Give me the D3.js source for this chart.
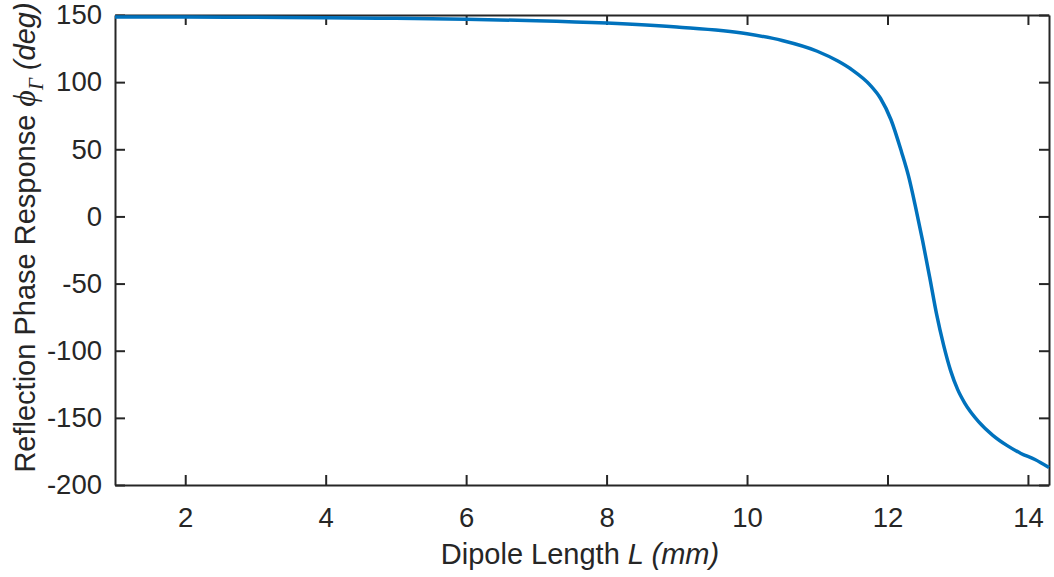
<!DOCTYPE html>
<html>
	<head>
		<meta charset="utf-8">
		<style>
			body {
			  margin: 0;
			  background: #fff;
			  font-family: "Liberation Sans", Arial, Helvetica, sans-serif;
			}
			.axis text {
			  fill: #262626;
			  font-size: 27.5px;
			}
			.axis path, .axis line {
			  stroke: #262626;
			  stroke-width: 2px;
			}
			.label {
			  fill: #262626;
			  font-size: 29px;
			}
		</style>
		<script src="https://cdn.jsdelivr.net/npm/d3@7"></script>
	</head>
	<body>
		<div id="chart"><svg></svg></div>
		<script>
			var width = 1054;
			var height = 577;
			var margin = {top: 15, right: 5, bottom: 92, left: 115};

			// dipole length L (mm) and reflection phase (deg)
			var lengths = [1, 2, 3, 4, 5, 6, 7, 8, 9, 10, 10.5, 11, 11.3, 11.5, 11.75, 11.9, 12.05, 12.2, 12.3, 12.4,
				12.5, 12.6, 12.7, 12.8, 12.9, 13.0, 13.1, 13.3, 13.5, 13.7, 13.9, 14.1, 14.3];
			var phases = [148.5, 148.5, 148.3, 148, 147.5, 146.8, 145.8, 144, 141, 136, 131, 123, 115.5, 109, 98, 88, 72, 48, 30, 7,
				-18, -45, -73, -96, -115, -129, -139, -153, -163, -170.5, -176.5, -181, -187];

			var xTicks = [2, 4, 6, 8, 10, 12, 14];
			var yTicks = [-200, -150, -100, -50, 0, 50, 100, 150];

			var w = width - margin.left - margin.right;
			var h = height - margin.top - margin.bottom;

			var svg = d3.select("svg")
				.attr("width", width)
				.attr("height", height);

			var g = svg.append("g")
				.attr("transform", "translate(" + margin.left + "," + margin.top + ")");

			var x = d3.scaleLinear().domain([1, 14.3]).range([0, w]);
			var y = d3.scaleLinear().domain([-200, 150]).range([h, 0]);

			var tickLen = 10;
			var plain = function(d) { return String(d); }; // keep hyphen minus like the original

			// bottom + top (box)
			g.append("g")
				.attr("class", "axis")
				.attr("transform", "translate(0," + h + ")")
				.call(d3.axisBottom(x).tickValues(xTicks).tickFormat(plain).tickSizeInner(-tickLen).tickSizeOuter(0).tickPadding(22))
				.call(function(s) { s.selectAll("text").attr("dy", "0.71em"); });
			g.append("g")
				.attr("class", "axis")
				.call(d3.axisTop(x).tickValues(xTicks).tickSizeInner(-tickLen).tickSizeOuter(0))
				.call(function(s) { s.selectAll("text").remove(); });

			// left + right
			g.append("g")
				.attr("class", "axis")
				.call(d3.axisLeft(y).tickValues(yTicks).tickFormat(plain).tickSizeInner(-tickLen).tickSizeOuter(0).tickPadding(13));
			g.append("g")
				.attr("class", "axis")
				.attr("transform", "translate(" + w + ",0)")
				.call(d3.axisRight(y).tickValues(yTicks).tickSizeInner(-tickLen).tickSizeOuter(0))
				.call(function(s) { s.selectAll("text").remove(); });

			var points = lengths.map(function(d, i) { return [d, phases[i]]; });

			var line = d3.line()
				.x(function(d) { return x(d[0]); })
				.y(function(d) { return y(d[1]); })
				.curve(d3.curveMonotoneX);

			g.append("path")
				.datum(points)
				.attr("fill", "none")
				.attr("stroke", "#0072BD")
				.attr("stroke-width", 3.5)
				.attr("stroke-linejoin", "round")
				.attr("d", line);

			// x label
			var xl = svg.append("text")
				.attr("class", "label")
				.attr("text-anchor", "middle")
				.attr("x", 580)
				.attr("y", 564);
			xl.append("tspan").text("Dipole Length ");
			xl.append("tspan").attr("font-style", "italic").text("L (mm)");

			// y label
			var yl = svg.append("text")
				.attr("class", "label")
				.attr("text-anchor", "middle")
				.attr("transform", "translate(35,237.5) rotate(-90)");
			yl.append("tspan").text("Reflection Phase Response ");
			yl.append("tspan")
				.attr("font-family", "'Liberation Serif', 'DejaVu Serif', serif")
				.attr("font-style", "italic")
				.attr("font-size", "32px")
				.text("\u03D5");
			yl.append("tspan")
				.attr("font-family", "'Liberation Serif', 'DejaVu Serif', serif")
				.attr("font-style", "italic")
				.attr("font-size", "21px")
				.attr("dy", "8")
				.text("\u0393");
			yl.append("tspan")
				.attr("font-style", "italic")
				.attr("dy", "-8")
				.text(" (deg)");
		</script>
	</body>
</html>
